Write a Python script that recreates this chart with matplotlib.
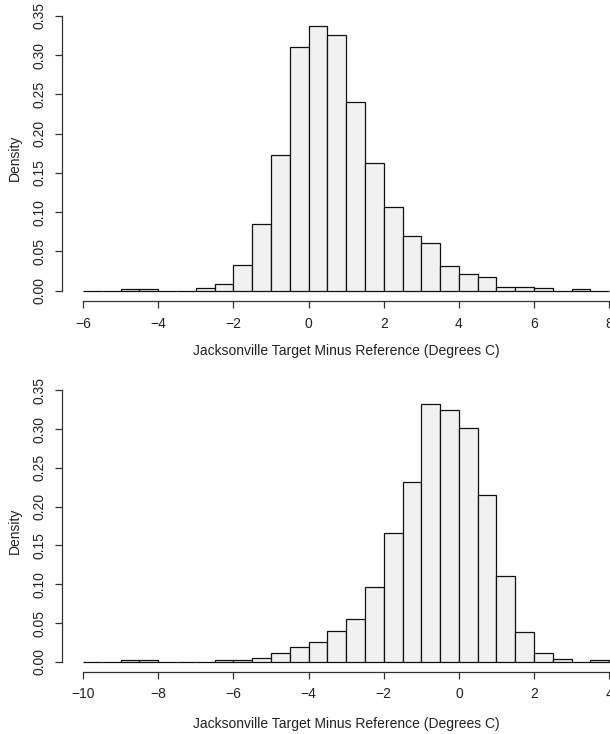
import numpy as np
import matplotlib
matplotlib.use("Agg")
import matplotlib.pyplot as plt

plt.rcParams['font.family'] = ['Liberation Sans', 'DejaVu Sans']

# top histogram: bins of 0.5 starting at -6
top_start = -6.0
top_dens = [0, 0, 0.0017, 0.0017, 0, 0, 0.0034, 0.008, 0.0323, 0.0846,
            0.173, 0.310, 0.3376, 0.3253, 0.2404, 0.1625, 0.1068, 0.0702,
            0.0608, 0.031, 0.0217, 0.0174, 0.0047, 0.0047, 0.0034, 0, 0.0017, 0]
top_ticks = [-6, -4, -2, 0, 2, 4, 6, 8]

# bottom histogram: bins of 0.5 starting at -10
bot_start = -10.0
bot_dens = [0, 0, 0.0017, 0.0017, 0, 0, 0, 0.0017, 0.0017, 0.0055,
            0.0107, 0.0196, 0.026, 0.040, 0.0558, 0.0959, 0.1658, 0.2323,
            0.332, 0.325, 0.3008, 0.2148, 0.110, 0.0384, 0.0119, 0.003, 0, 0.0017]
bot_ticks = [-10, -8, -6, -4, -2, 0, 2, 4]

y_ticks = [0.00, 0.05, 0.10, 0.15, 0.20, 0.25, 0.30, 0.35]
xlab = "Jacksonville Target Minus Reference (Degrees C)"

W, H = 610, 734
fig = plt.figure(figsize=(W / 100, H / 100), dpi=100)


def px_axes(left, right, top, bottom):
    return fig.add_axes([left / W, (H - bottom) / H, (right - left) / W, (bottom - top) / H])


def r_hist(ax, start, dens, xticks):
    dens = np.array(dens)
    edges = start + 0.5 * np.arange(len(dens) + 1)
    ax.bar(edges[:-1], dens, width=0.5, align='edge', color='#f0f1f0',
           edgecolor='#111111', linewidth=0.9)
    lo, hi = xticks[0], xticks[-1]
    pad = 0.04 * (hi - lo)
    ax.set_xlim(lo - pad, hi + pad)
    ymax = dens.max()
    ax.set_ylim(-0.04 * ymax, 1.04 * ymax)
    for s in ['top', 'right']:
        ax.spines[s].set_visible(False)
    ax.spines['left'].set_bounds(0, 0.35)
    ax.spines['bottom'].set_bounds(lo, hi)
    for s in ['left', 'bottom']:
        ax.spines[s].set_color('#333333')
        ax.spines[s].set_linewidth(0.9)
    ax.set_xticks(xticks)
    ax.set_xticklabels([str(t).replace('-', '\u2212') for t in xticks])
    ax.set_yticks(y_ticks)
    ax.set_yticklabels(['%.2f' % t for t in y_ticks], rotation=90, va='center')
    ax.tick_params(direction='out', length=5, width=0.9, color='#333333',
                   labelsize=10, labelcolor='#222222', pad=6)
    ax.set_ylabel('Density', fontsize=10, color='#222222')
    ax.yaxis.set_label_coords(-0.071, 0.5)
    ax.set_xlabel(xlab, fontsize=10, color='#222222')


ax1 = px_axes(62, 630.3, 15.1, 301.3)
r_hist(ax1, top_start, top_dens, top_ticks)
ax1.xaxis.set_label_coords(0.5, -0.150)

ax2 = px_axes(62, 630.3, 390.3, 672.1)
r_hist(ax2, bot_start, bot_dens, bot_ticks)
ax2.xaxis.set_label_coords(0.5, -0.160)

fig.savefig('out.png', dpi=100)
